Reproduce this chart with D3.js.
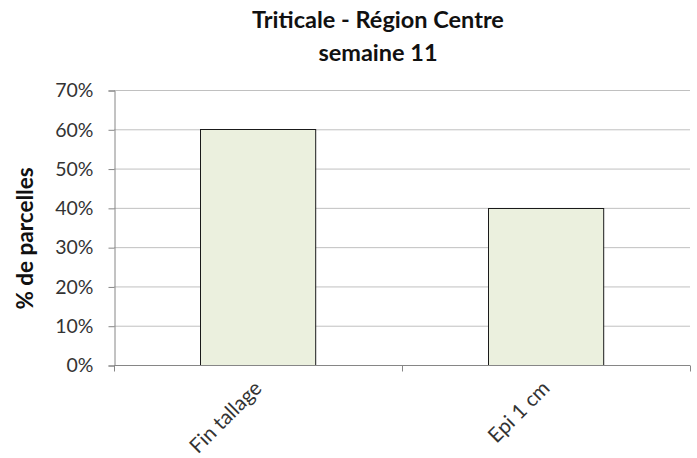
<!DOCTYPE html>
<html><head><meta charset="utf-8">
<script src="https://cdn.jsdelivr.net/npm/d3@7"></script>
<style>body{margin:0;background:#fff}svg{display:block}text{font-family:Lato,"Open Sans",sans-serif}</style>
</head><body>
<svg id="c" width="697" height="458"></svg>
<script>
const categories = ["Fin tallage", "Epi 1 cm"];
const values = [0.60, 0.40];
const yTicks = [0, 0.1, 0.2, 0.3, 0.4, 0.5, 0.6, 0.7];
const titleLines = ["Triticale - Région Centre", "semaine 11"];
const yLabel = "% de parcelles";

const svg = d3.select("#c");
const m = {left:114, right:690, top:90, bottom:365};
const x = d3.scaleBand().domain(categories).range([m.left, m.right]).paddingInner(0.6).paddingOuter(0.3);
const xb = d3.scaleBand().domain(categories).range([m.left, m.right]);
const y = d3.scaleLinear().domain([0, 0.7]).range([m.bottom, m.top]);

// gridlines
svg.append("g").selectAll("line").data(yTicks.filter(d=>d>0)).join("line")
  .attr("x1", m.left).attr("x2", m.right)
  .attr("y1", d=>y(d)+0.5).attr("y2", d=>y(d)+0.5)
  .attr("stroke", "#c0c0c0").attr("stroke-width", 1);

// bars
svg.append("g").selectAll("rect").data(values).join("rect")
  .attr("x", (d,i)=>Math.round(x(categories[i]))+0.5)
  .attr("y", d=>Math.round(y(d))+0.5)
  .attr("width", x.bandwidth())
  .attr("height", d=>y(0)-Math.round(y(d)))
  .attr("fill", "#ebf0de").attr("stroke", "#1a1a1a").attr("stroke-width", 1);

// y axis
const ya = d3.axisLeft(y).tickValues(yTicks).tickFormat(d3.format(".0%")).tickSize(6).tickPadding(15);
const gy = svg.append("g").attr("transform", `translate(${m.left+0.5},0.5)`).call(ya);
gy.select(".domain").attr("stroke", "#868686");
gy.selectAll(".tick line").attr("stroke", "#868686");
gy.selectAll(".tick text").attr("font-size", 19.5).attr("fill", "#333").style("font-family","Lato");

// x axis
const gx = svg.append("g").attr("transform", `translate(0,${m.bottom+0.5})`);
gx.append("line").attr("x1", m.left).attr("x2", m.right).attr("stroke", "#868686");
const bounds = [m.left].concat(categories.map(c=>xb(c)+xb.bandwidth()));
gx.selectAll(".tk").data(bounds).join("line").attr("class","tk")
  .attr("x1", d=>Math.round(d)+0.5).attr("x2", d=>Math.round(d)+0.5).attr("y1",0).attr("y2",6)
  .attr("stroke", "#868686");
gx.selectAll(".lbl").data(categories).join("text").attr("class","lbl")
  .attr("transform", d=>`translate(${xb(d)+xb.bandwidth()/2+5},${24}) rotate(-45)`)
  .attr("text-anchor","end").attr("font-size", 20.5).attr("fill","#333").text(d=>d);

// title
svg.append("g").selectAll("text").data(titleLines).join("text")
  .attr("x", 378).attr("y", (d,i)=>28+i*33).attr("text-anchor","middle")
  .attr("font-size", 23.5).attr("font-weight","bold").attr("fill","#111").text(d=>d);

// y label
svg.append("text").attr("transform", `translate(33,${(m.top+m.bottom)/2+11}) rotate(-90)`)
  .attr("text-anchor","middle").attr("font-size", 22.5).attr("font-weight","bold").attr("fill","#111").text(yLabel);
</script>
</body></html>
